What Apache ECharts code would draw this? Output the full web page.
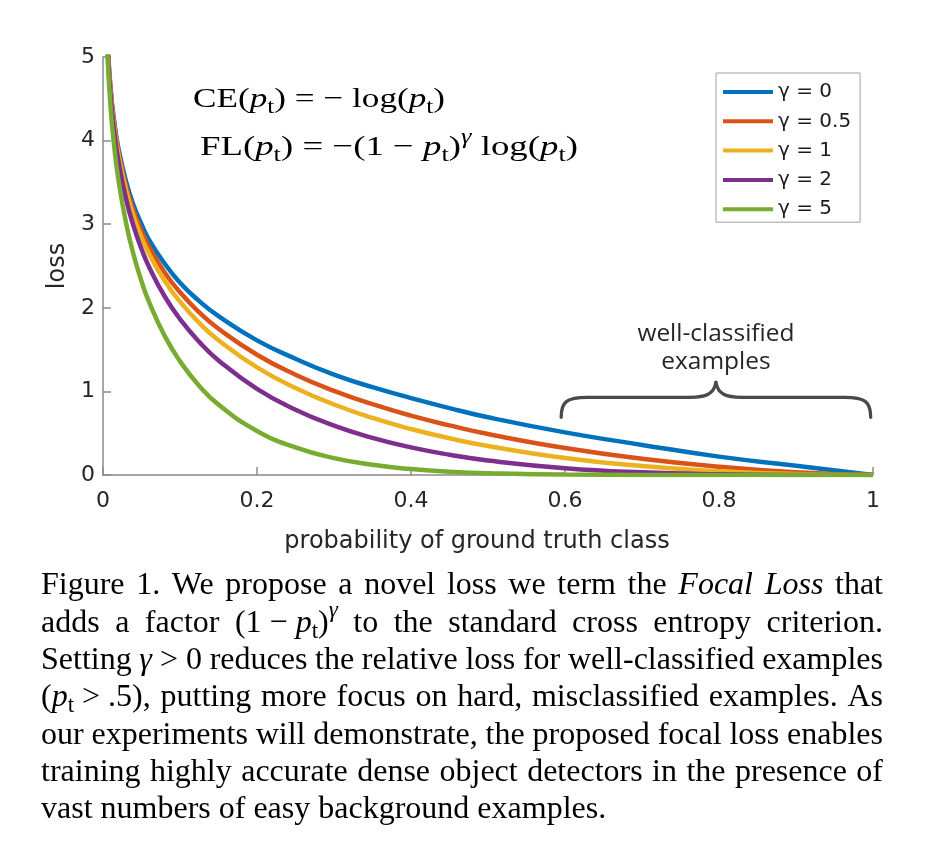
<!DOCTYPE html>
<html><head><meta charset="utf-8">
<script src="https://cdn.jsdelivr.net/npm/echarts@6/dist/echarts.min.js"></script>
<style>html,body{margin:0;padding:0;background:#fff}#c{width:926px;height:852px}</style>
</head><body><div id="c"></div>
<script>
// ---------- data ----------
const probability = [0.005,0.01,0.015,0.02,0.03,0.04,0.05,0.06,0.08,0.1,0.125,0.15,0.2,0.25,0.3,0.35,0.4,0.45,0.5,0.6,0.7,0.8,0.9,1.0];
const lossGamma0  = [5.30,4.61,4.20,3.91,3.51,3.22,3.00,2.81,2.53,2.30,2.08,1.90,1.61,1.39,1.20,1.05,0.92,0.80,0.69,0.51,0.36,0.22,0.11,0];
const lossGamma05 = [5.285,4.582,4.168,3.873,3.454,3.154,2.920,2.727,2.423,2.185,1.945,1.749,1.439,1.200,1.007,0.847,0.710,0.593,0.490,0.323,0.195,0.100,0.033,0];
const lossGamma1  = [5.272,4.559,4.137,3.834,3.402,3.090,2.846,2.644,2.324,2.073,1.819,1.612,1.287,1.040,0.843,0.683,0.550,0.439,0.347,0.204,0.107,0.045,0.0105,0];
const lossGamma2  = [5.245,4.513,4.075,3.757,3.300,2.967,2.704,2.486,2.138,1.865,1.592,1.371,1.030,0.780,0.590,0.444,0.330,0.242,0.173,0.082,0.032,0.009,0.001,0];
const lossGamma5  = [5.167,4.379,3.894,3.536,3.012,2.625,2.318,2.064,1.665,1.360,1.066,0.842,0.527,0.329,0.202,0.122,0.071,0.040,0.022,0.005,0.001,0.0001,0,0];
const seriesNames = ['γ = 0','γ = 0.5','γ = 1','γ = 2','γ = 5'];
const seriesValues = [lossGamma0, lossGamma05, lossGamma1, lossGamma2, lossGamma5];
const xAxisRange = [0, 1, 0.2];   // min, max, interval
const yAxisRange = [0, 5, 1];
const xAxisTitle = 'probability of ground truth class';
const yAxisTitle = 'loss';
const braceRange = [0.595, 0.997]; // "well-classified examples" span on x
const braceLabel = ['well-classified', 'examples'];
const formulaLines = [
  'CE(*p*_{t}) = − log(*p*_{t})',
  'FL(*p*_{t}) = −(1 − *p*_{t})^{γ} log(*p*_{t})'
];
const captionLines = [
  'Figure 1. We propose a novel loss we term the *Focal* *Loss* that',
  'adds a factor (1~−~*p*_{t})^{γ} to the standard cross entropy criterion.',
  'Setting *γ*~>~0 reduces the relative loss for well-classified examples',
  '(*p*_{t}~>~.5), putting more focus on hard, misclassified examples. As',
  'our experiments will demonstrate, the proposed focal loss enables',
  'training highly accurate dense object detectors in the presence of',
  'vast numbers of easy background examples.'
];

// ---------- styles ----------
const colors = ['#0072BD','#D95319','#EDB120','#7E2F8E','#77AC30'];
const SANS = "'DejaVu Sans', sans-serif";
const SERIF = "'Liberation Serif', 'Times New Roman', serif";
const axisGray = '#8a8a8a';
const labelColor = '#262626';

const chart = echarts.init(document.getElementById('c'), null, {renderer:'canvas'});

const series = seriesNames.map((name, k) => ({
  name, type:'line', showSymbol:false, smooth:0.5,
  data: probability.map((p, i) => [p, seriesValues[k][i]]),
  lineStyle:{width:4.5, color:colors[k]}, itemStyle:{color:colors[k]},
  z: 2 + k, silent:true
}));

chart.setOption({
  animation:false,
  backgroundColor:'#ffffff',
  grid:{left:103, right:53, top:57, bottom:377, containLabel:false, outerBoundsMode:'none'},
  xAxis:{
    type:'value', min:xAxisRange[0], max:xAxisRange[1], interval:xAxisRange[2],
    name:xAxisTitle, nameLocation:'middle', nameGap:55,
    nameTextStyle:{fontFamily:SANS, fontSize:24, color:labelColor, padding:[0,22,0,0]},
    axisLine:{show:true, onZero:false, lineStyle:{color:axisGray, width:1.5}},
    axisTick:{show:true, inside:true, length:8, lineStyle:{color:axisGray, width:1.5}},
    axisLabel:{fontFamily:SANS, fontSize:22, color:labelColor, margin:15},
    splitLine:{show:false}
  },
  yAxis:{
    type:'value', min:yAxisRange[0], max:yAxisRange[1], interval:yAxisRange[2],
    name:yAxisTitle, nameLocation:'middle', nameGap:31,
    nameTextStyle:{fontFamily:SANS, fontSize:24, color:labelColor},
    axisLine:{show:true, onZero:false, lineStyle:{color:axisGray, width:1.5}},
    axisTick:{show:true, inside:true, length:8, lineStyle:{color:axisGray, width:1.5}},
    axisLabel:{fontFamily:SANS, fontSize:22, color:labelColor, margin:8},
    splitLine:{show:false}
  },
  legend:{
    data:seriesNames, orient:'vertical', left:716, top:73,
    padding:[9,9,3,7], itemWidth:50, itemHeight:4, itemGap:9.3, icon:'rect',
    borderColor:'#a0a0a0', borderWidth:1, backgroundColor:'#ffffff',
    textStyle:{fontFamily:SANS, fontSize:20, color:'#1a1a1a', lineHeight:20},
    selectedMode:false
  },
  series
});

// ---------- text helpers for formula / caption ----------
const measureCtx = document.createElement('canvas').getContext('2d');
function measure(text, font){ measureCtx.font = font; return measureCtx.measureText(text).width; }

function parseWord(w){
  const segs = []; let italic = false; let buf = ''; let i = 0;
  const flush = () => { if (buf) { segs.push({t:buf.replace(/~/g,' '), k: italic ? 'i' : 'n'}); buf=''; } };
  while (i < w.length) {
    const c = w[i];
    if (c === '*') { flush(); italic = !italic; i++; continue; }
    if ((c === '_' || c === '^') && w[i+1] === '{') {
      flush();
      const j = w.indexOf('}', i);
      segs.push({t: w.slice(i+2, j), k: c === '_' ? 'sub' : 'sup'});
      i = j + 1; continue;
    }
    buf += c; i++;
  }
  flush();
  return segs;
}
function segFont(k, F, fam){
  if (k === 'i') return `italic ${F}px ${fam}`;
  if (k === 'sub') return `${(F*0.72).toFixed(2)}px ${fam}`;
  if (k === 'sup') return `italic ${(F*0.72).toFixed(2)}px ${fam}`;
  return `${F}px ${fam}`;
}
function segDy(k, F){ return k === 'sub' ? F*0.26 : (k === 'sup' ? -F*0.38 : 0); }

// mode: 'justify' (spread spaces to width), 'fit' (scale to width), 'natural'
function buildLine(str, opt){
  const F = opt.F, fam = opt.fam;
  const words = str.split(' ').map(parseWord);
  const widths = words.map(ws => ws.reduce((s, sg) => s + measure(sg.t, segFont(sg.k, F, fam)), 0));
  const space = measure(' ', `${F}px ${fam}`);
  const sum = widths.reduce((a,b)=>a+b,0);
  let scale = opt.scale || 1, gap = space;
  if (opt.mode === 'justify' && words.length > 1) gap = (opt.width/scale - sum) / (words.length - 1);
  if (opt.mode === 'fit') scale = opt.width / (sum + space*(words.length-1));
  const children = [];
  let x = 0;
  words.forEach((ws) => {
    ws.forEach(sg => {
      const font = segFont(sg.k, F, fam);
      children.push({type:'text', x:x, y:segDy(sg.k, F), silent:true,
        style:{text:sg.t, font:font, fill:opt.fill || '#000', align:'left', verticalAlign:'middle'}});
      x += measure(sg.t, font);
    });
    x += gap;
  });
  return {type:'group', x:opt.left, y:opt.y, scaleX:scale, silent:true, children};
}

const graphics = [];
// formulas (inside the figure)
graphics.push(buildLine(formulaLines[0], {F:28, fam:SERIF, mode:'fit', left:193, width:252, y:100}));
graphics.push(buildLine(formulaLines[1], {F:28, fam:SERIF, mode:'fit', left:200, width:378, y:148}));

// caption
const capTop = 586, capStep = 37.3;
captionLines.forEach((ln, i) => {
  const last = i === captionLines.length - 1;
  graphics.push(buildLine(ln, {F:32, fam:SERIF, mode: last ? 'natural' : 'justify',
    left:41, width:842, y: capTop + i*capStep, fill:'#000'}));
});

// brace annotation, anchored to data coordinates
const pL = chart.convertToPixel({gridIndex:0}, [braceRange[0], 0.69]);
const pR = chart.convertToPixel({gridIndex:0}, [braceRange[1], 0.69]);
const midX = (pL[0] + pR[0]) / 2;
const baseY = pL[1], armY = baseY - 20, tipY = baseY - 35;
const braceStyle = {fill:null, stroke:'#4a4a4a', lineWidth:3.3, lineCap:'round'};
const bz = (x1,y1,c1x,c1y,c2x,c2y,x2,y2) => ({type:'bezierCurve', silent:true,
  shape:{x1, y1, cpx1:c1x, cpy1:c1y, cpx2:c2x, cpy2:c2y, x2, y2}, style:braceStyle});
const ln = (x1,y1,x2,y2) => ({type:'line', silent:true, shape:{x1,y1,x2,y2}, style:braceStyle});
graphics.push(bz(pL[0], baseY, pL[0], armY+4, pL[0]+6, armY, pL[0]+26, armY));
graphics.push(ln(pL[0]+26, armY, midX-26, armY));
graphics.push(bz(midX-26, armY, midX-10, armY, midX-2, armY-3, midX, tipY));
graphics.push(bz(midX, tipY, midX+2, armY-3, midX+10, armY, midX+26, armY));
graphics.push(ln(midX+26, armY, pR[0]-26, armY));
graphics.push(bz(pR[0]-26, armY, pR[0]-6, armY, pR[0], armY+4, pR[0], baseY));

const annFont = `24px 'Open Sans', sans-serif`;
const annScale = 157 / measure(braceLabel[0], annFont);
braceLabel.forEach((t, i) => {
  graphics.push({type:'text', x:midX, y:tipY - 48 + i*28, scaleX:annScale, silent:true,
    style:{text:t, font:annFont, fill:'#262626', align:'center', verticalAlign:'middle'}});
});

chart.setOption({graphic:{elements:graphics}});
</script>
</body></html>
